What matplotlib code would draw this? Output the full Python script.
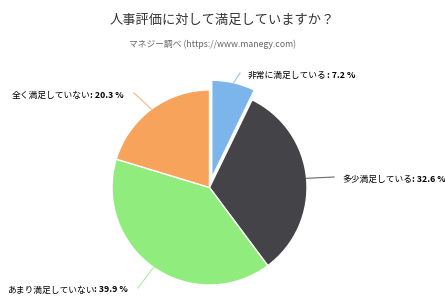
import numpy as np
import matplotlib.pyplot as plt

## Chart data
labels = ['非常に満足している', '多少満足している', 'あまり満足していない', '全く満足していない']
values = [7.2, 32.6, 39.9, 20.3]
colors = ['#7cb5ec', '#434348', '#90ed7d', '#f7a35c']
title = '人事評価に対して満足していますか？'
subtitle = 'マネジー調べ (https://www.manegy.com)'

plt.rcParams['font.family'] = ['Noto Sans CJK JP', 'DejaVu Sans']

W, H = 445, 307
fig = plt.figure(figsize=(W / 100, H / 100), dpi=100)
ax = fig.add_axes([0, 0, 1, 1])

## pie geometry in pixels (image y measured from top)
cx, cy, r = 209.5, 187.5, 97.5
offset = 10
## matplotlib applies explode as an absolute shift in data units
explode = [offset, 0, 0, 0]
ax.pie(values, colors=colors, startangle=90, counterclock=False,
       center=(cx, H - cy), radius=r, explode=explode,
       wedgeprops=dict(edgecolor='white', linewidth=1.0))
ax.set_xlim(0, W)
ax.set_ylim(0, H)
ax.set_aspect('auto')
ax.axis('off')

## label anchor positions (image coords) and alignment
label_pos = [(248, 75, 'left'), (342, 179, 'left'), (128, 290, 'right'), (124, 95, 'right')]

fs = 6.3
total = float(sum(values))
cum = 0.0
for i, v in enumerate(values):
    mid = (cum + v / 2) / total * 2 * np.pi
    cum += v
    ex = cx + np.sin(mid) * (r + explode[i])
    ey = cy - np.cos(mid) * (r + explode[i])
    lx, ly, ha = label_pos[i]
    gx = lx - 8 if ha == 'left' else lx + 10
    ax.plot([ex, gx], [H - ey, H - (ly - 2)], color=colors[i], lw=0.8, alpha=0.8)
    num_txt = ': %.1f %%' % v
    if ha == 'left':
        t = ax.text(lx, H - ly, labels[i], ha='left', va='center', fontsize=fs, color='black')
        fig.canvas.draw()
        x1 = ax.transData.inverted().transform((t.get_window_extent().x1, 0))[0]
        ax.text(x1, H - ly, num_txt, ha='left', va='center', fontsize=fs,
                fontweight='bold', color='black')
    else:
        t = ax.text(lx, H - ly, num_txt, ha='right', va='center', fontsize=fs,
                    fontweight='bold', color='black')
        fig.canvas.draw()
        x0 = ax.transData.inverted().transform((t.get_window_extent().x0, 0))[0]
        ax.text(x0, H - ly, labels[i], ha='right', va='center', fontsize=fs, color='black')

ax.text(W / 2, H - 20, title, ha='center', va='center', fontsize=9.5, color='#333333')
ax.text(W / 2 - 10, H - 44, subtitle, ha='center', va='center', fontsize=6.3, color='#666666')

fig.savefig('out.png', dpi=100, facecolor='white')
